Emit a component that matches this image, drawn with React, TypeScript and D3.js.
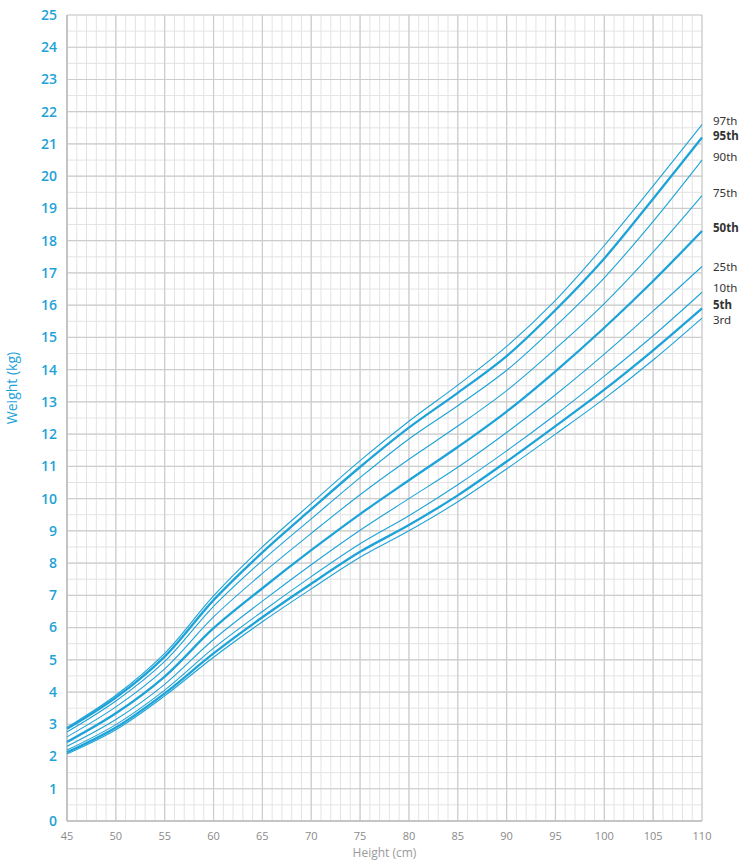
import React from 'react';
import * as d3 from 'd3';

// height in cm, weight in kg, every 5 cm
const heights = [45, 50, 55, 60, 65, 70, 75, 80, 85, 90, 95, 100, 105, 110];

const p97 = [2.9, 3.9, 5.2, 6.98, 8.5, 9.85, 11.18, 12.4, 13.52, 14.72, 16.15, 17.85, 19.7, 21.6];
const p95 = [2.86, 3.83, 5.1, 6.85, 8.33, 9.67, 10.98, 12.2, 13.28, 14.42, 15.85, 17.45, 19.3, 21.2];
const p90 = [2.76, 3.72, 4.95, 6.66, 8.08, 9.37, 10.65, 11.85, 12.88, 13.98, 15.35, 16.85, 18.6, 20.5];
const p75 = [2.61, 3.54, 4.72, 6.33, 7.68, 8.92, 10.12, 11.22, 12.25, 13.35, 14.65, 16.05, 17.65, 19.4];
const p50 = [2.45, 3.34, 4.48, 5.98, 7.22, 8.4, 9.52, 10.57, 11.6, 12.7, 13.95, 15.3, 16.75, 18.3];
const p25 = [2.32, 3.15, 4.24, 5.63, 6.82, 7.95, 9.02, 10.0, 10.97, 12.05, 13.22, 14.48, 15.82, 17.2];
const p10 = [2.2, 2.99, 4.06, 5.36, 6.5, 7.58, 8.6, 9.47, 10.43, 11.48, 12.6, 13.8, 15.05, 16.4];
const p5 = [2.13, 2.9, 3.96, 5.2, 6.32, 7.36, 8.35, 9.18, 10.1, 11.15, 12.25, 13.38, 14.6, 15.9];
const p3 = [2.08, 2.83, 3.88, 5.08, 6.18, 7.2, 8.18, 9.0, 9.9, 10.92, 12.0, 13.1, 14.3, 15.6];

const series = [
  { name: '97th', values: p97, bold: false },
  { name: '95th', values: p95, bold: true },
  { name: '90th', values: p90, bold: false },
  { name: '75th', values: p75, bold: false },
  { name: '50th', values: p50, bold: true },
  { name: '25th', values: p25, bold: false },
  { name: '10th', values: p10, bold: false },
  { name: '5th', values: p5, bold: true },
  { name: '3rd', values: p3, bold: false },
];

// small vertical nudges so the end labels don't collide
const labelNudge: Record<string, number> = {
  '97th': -3.5, '95th': -1.5, '90th': -3, '75th': -3, '50th': -3,
  '25th': 1, '10th': -4, '5th': -3, '3rd': 1.5,
};

const W = 749;
const H = 867;
const margin = { top: 15, right: 47, bottom: 46, left: 67 };
const BLUE = '#1ea3d8';

export default function App() {
  const x = d3.scaleLinear().domain([45, 110]).range([margin.left, W - margin.right]);
  const y = d3.scaleLinear().domain([0, 25]).range([H - margin.bottom, margin.top]);

  const line = d3.line<[number, number]>()
    .x(d => x(d[0]))
    .y(d => y(d[1]))
    .curve(d3.curveCatmullRom.alpha(0.5));

  const xMinor = d3.range(45, 111, 1);
  const yMinor = d3.range(0, 25.01, 0.5);
  const xTicks = d3.range(45, 111, 5);
  const yTicks = d3.range(0, 26, 1);

  return (
    <svg width={W} height={H} style={{ position: 'absolute', left: 0, top: 0, background: '#fff' }}>
      {/* minor grid */}
      <g stroke="#e3e3e3" strokeWidth={1}>
        {xMinor.map(v => (
          <line key={'xm' + v} x1={x(v)} x2={x(v)} y1={y(0)} y2={y(25)} />
        ))}
        {yMinor.map(v => (
          <line key={'ym' + v} x1={x(45)} x2={x(110)} y1={y(v)} y2={y(v)} />
        ))}
      </g>
      {/* major grid */}
      <g stroke="#cdcdcd" strokeWidth={1.2}>
        {xTicks.map(v => (
          <line key={'xM' + v} x1={x(v)} x2={x(v)} y1={y(0)} y2={y(25)} />
        ))}
        {yTicks.map(v => (
          <line key={'yM' + v} x1={x(45)} x2={x(110)} y1={y(v)} y2={y(v)} />
        ))}
      </g>
      <line x1={x(45)} x2={x(45)} y1={y(0)} y2={y(25)} stroke="#bdbdbd" strokeWidth={1.5} />
      <line x1={x(45)} x2={x(110)} y1={y(0)} y2={y(0)} stroke="#bdbdbd" strokeWidth={1.5} />

      {/* percentile curves */}
      <g fill="none" stroke={BLUE}>
        {series.map(s => (
          <path
            key={s.name}
            d={line(heights.map((h, i) => [h, s.values[i]] as [number, number])) || ''}
            strokeWidth={s.bold ? 2.3 : 1.1}
          />
        ))}
      </g>

      {/* y axis labels */}
      <g fontFamily="'Open Sans', sans-serif" fontSize={14} fontWeight={600} fill={BLUE} textAnchor="end">
        {yTicks.map(v => (
          <text key={'yl' + v} x={margin.left - 10} y={y(v)} dy="0.35em">{v}</text>
        ))}
      </g>
      <text
        transform={`translate(17,${(y(0) + y(25)) / 2 - 30}) rotate(-90)`}
        textAnchor="middle"
        fontFamily="'Open Sans', sans-serif"
        fontSize={14}
        fill={BLUE}
      >Weight (kg)</text>

      {/* x axis labels */}
      <g fontFamily="'Open Sans', sans-serif" fontSize={11} fill="#8a8a8a" textAnchor="middle">
        {xTicks.map(v => (
          <text key={'xl' + v} x={x(v)} y={y(0) + 19}>{v}</text>
        ))}
      </g>
      <text
        x={(x(45) + x(110)) / 2}
        y={H - 10}
        textAnchor="middle"
        fontFamily="'Open Sans', sans-serif"
        fontSize={12}
        fill="#9a9a9a"
      >Height (cm)</text>

      {/* end labels */}
      <g fontFamily="'Noto Sans', sans-serif" fontSize={11.5} fill="#333">
        {series.map(s => (
          <text
            key={'lab' + s.name}
            x={x(110) + 11}
            y={y(s.values[s.values.length - 1]) + labelNudge[s.name]}
            dy="0.35em"
            fontWeight={s.bold ? 700 : 400}
          >{s.name}</text>
        ))}
      </g>
    </svg>
  );
}
